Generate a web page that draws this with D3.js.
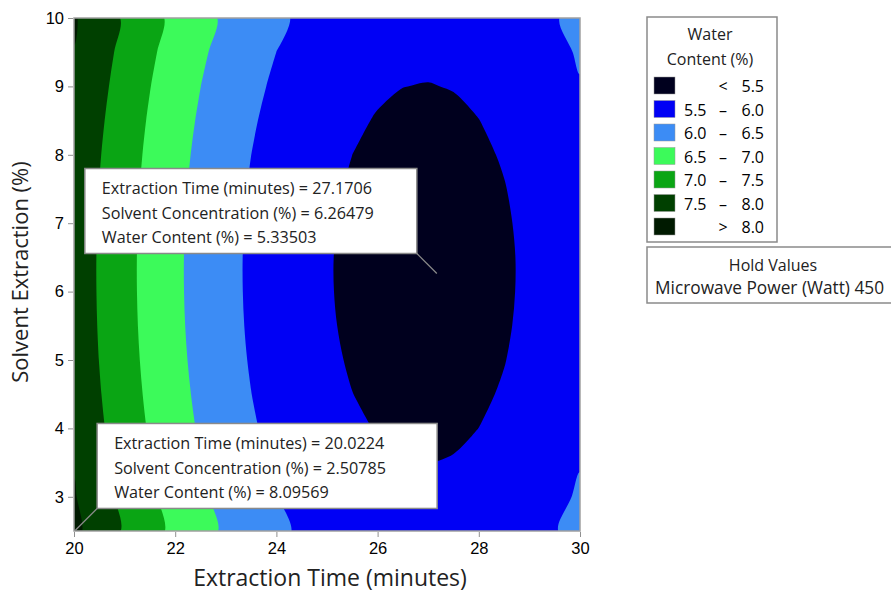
<!DOCTYPE html>
<html lang="en">
  <head>
    <meta charset="utf-8">
    <title>Contour Plot of Water Content</title>
    <style>
    body { margin: 0; background: #fff; }
    svg { display: block; font-family: "Open Sans", "Noto Sans", sans-serif; }
    .axis text { font-size: 16.5px; fill: #000; }
    .axis line { stroke: #909090; }
    .axis path { display: none; }
    </style>
    <script src="https://cdn.jsdelivr.net/npm/d3@7/dist/d3.min.js"></script>
  </head>
  <body>
    <script>

      // Grid: water content (%) at each time / solvent point
      var timeValues = [20, 20.5, 21, 21.5, 22, 22.5, 23, 23.5, 24, 24.5, 25,
                        25.5, 26, 26.5, 27, 27.5, 28, 28.5, 29, 29.5, 30];
      var solventValues = [2.5, 3, 3.5, 4, 4.5, 5, 5.5, 6, 6.5, 7, 7.5, 8, 8.5, 9, 9.5, 10];
      var waterGrid = [
        [8.113, 7.769, 7.451, 7.158, 6.892, 6.651, 6.435, 6.246, 6.082, 5.944, 5.832, 5.745, 5.685, 5.650, 5.640, 5.657, 5.699, 5.767, 5.861, 5.980, 6.125], // 2.5
        [8.036, 7.692, 7.374, 7.081, 6.815, 6.574, 6.358, 6.169, 6.005, 5.867, 5.755, 5.668, 5.608, 5.573, 5.563, 5.580, 5.622, 5.690, 5.784, 5.903, 6.048], // 3.0
        [7.970, 7.626, 7.308, 7.015, 6.749, 6.508, 6.292, 6.103, 5.939, 5.801, 5.689, 5.602, 5.542, 5.507, 5.497, 5.514, 5.556, 5.624, 5.718, 5.837, 5.982], // 3.5
        [7.915, 7.571, 7.253, 6.960, 6.694, 6.453, 6.237, 6.048, 5.884, 5.746, 5.634, 5.547, 5.487, 5.452, 5.442, 5.459, 5.501, 5.569, 5.663, 5.782, 5.927], // 4.0
        [7.871, 7.527, 7.209, 6.916, 6.650, 6.409, 6.193, 6.004, 5.840, 5.702, 5.590, 5.503, 5.443, 5.408, 5.398, 5.415, 5.457, 5.525, 5.619, 5.738, 5.883], // 4.5
        [7.838, 7.494, 7.176, 6.883, 6.617, 6.376, 6.160, 5.971, 5.807, 5.669, 5.557, 5.470, 5.410, 5.375, 5.365, 5.382, 5.424, 5.492, 5.586, 5.705, 5.850], // 5.0
        [7.816, 7.472, 7.154, 6.861, 6.595, 6.354, 6.138, 5.949, 5.785, 5.647, 5.535, 5.448, 5.388, 5.353, 5.343, 5.360, 5.402, 5.470, 5.564, 5.683, 5.828], // 5.5
        [7.805, 7.461, 7.143, 6.850, 6.584, 6.343, 6.127, 5.938, 5.774, 5.636, 5.524, 5.437, 5.377, 5.342, 5.332, 5.349, 5.391, 5.459, 5.553, 5.672, 5.817], // 6.0
        [7.804, 7.460, 7.142, 6.849, 6.583, 6.342, 6.126, 5.937, 5.773, 5.635, 5.523, 5.436, 5.376, 5.341, 5.331, 5.348, 5.390, 5.458, 5.552, 5.671, 5.816], // 6.5
        [7.815, 7.471, 7.153, 6.860, 6.594, 6.353, 6.137, 5.948, 5.784, 5.646, 5.534, 5.447, 5.387, 5.352, 5.342, 5.359, 5.401, 5.469, 5.563, 5.682, 5.827], // 7.0
        [7.836, 7.492, 7.174, 6.881, 6.615, 6.374, 6.158, 5.969, 5.805, 5.667, 5.555, 5.468, 5.408, 5.373, 5.363, 5.380, 5.422, 5.490, 5.584, 5.703, 5.848], // 7.5
        [7.868, 7.524, 7.206, 6.913, 6.647, 6.406, 6.190, 6.001, 5.837, 5.699, 5.587, 5.500, 5.440, 5.405, 5.395, 5.412, 5.454, 5.522, 5.616, 5.735, 5.880], // 8.0
        [7.911, 7.567, 7.249, 6.956, 6.690, 6.449, 6.233, 6.044, 5.880, 5.742, 5.630, 5.543, 5.483, 5.448, 5.438, 5.455, 5.497, 5.565, 5.659, 5.778, 5.923], // 8.5
        [7.965, 7.621, 7.303, 7.010, 6.744, 6.503, 6.287, 6.098, 5.934, 5.796, 5.684, 5.597, 5.537, 5.502, 5.492, 5.509, 5.551, 5.619, 5.713, 5.832, 5.977], // 9.0
        [7.990, 7.686, 7.368, 7.075, 6.809, 6.568, 6.352, 6.163, 5.999, 5.861, 5.749, 5.662, 5.602, 5.567, 5.557, 5.574, 5.616, 5.684, 5.778, 5.897, 6.042], // 9.5
        [8.040, 7.762, 7.444, 7.151, 6.885, 6.644, 6.428, 6.239, 6.075, 5.937, 5.825, 5.738, 5.678, 5.643, 5.633, 5.650, 5.692, 5.760, 5.854, 5.973, 6.118]  // 10
      ];

      var thresholds = [5.5, 6.0, 6.5, 7.0, 7.5, 8.0];
      var bandColors = ["#00001e", "#0000f5", "#3c8cf5", "#3cfa5a", "#0aa514", "#004000", "#001a00"];
      var legendLow = ["", "5.5", "6.0", "6.5", "7.0", "7.5", ""];
      var legendSign = ["<", "\u2013", "\u2013", "\u2013", "\u2013", "\u2013", ">"];
      var legendHigh = ["5.5", "6.0", "6.5", "7.0", "7.5", "8.0", "8.0"];

      var xTicks = [20, 22, 24, 26, 28, 30];
      var yTicks = [3, 4, 5, 6, 7, 8, 9, 10];

      // Flagged points (time, solvent, water)
      var flagTime = [27.1706, 20.0224];
      var flagSolvent = [6.26479, 2.50785];
      var flagWater = [5.33503, 8.09569];

      var width = 891, height = 592;
      var plot = { left: 74, top: 18, right: 580, bottom: 531 };

      var svg = d3.select("body").append("svg")
          .attr("width", width)
          .attr("height", height);

      var x = d3.scaleLinear().domain([20, 30]).range([plot.left, plot.right]);
      var y = d3.scaleLinear().domain([2.5, 10]).range([plot.bottom, plot.top]);

      // grid index (cell centre at i + 0.5) -> data value
      var gx = d3.scaleLinear().domain([0.5, timeValues.length - 0.5])
          .range([timeValues[0], timeValues[timeValues.length - 1]]);
      var gy = d3.scaleLinear().domain([0.5, solventValues.length - 0.5])
          .range([solventValues[0], solventValues[solventValues.length - 1]]);

      svg.append("clipPath").attr("id", "plot-clip")
        .append("rect")
          .attr("x", plot.left).attr("y", plot.top)
          .attr("width", plot.right - plot.left)
          .attr("height", plot.bottom - plot.top);

      var flat = [];
      waterGrid.forEach(function(row) { row.forEach(function(v) { flat.push(v); }); });

      var contours = d3.contours()
          .size([timeValues.length, solventValues.length])
          .thresholds(thresholds)(flat);

      var ringLine = d3.line()
          .x(function(p) { return x(gx(p[0])); })
          .y(function(p) { return y(gy(p[1])); })
          .curve(d3.curveCatmullRomClosed.alpha(0.5));

      function contourPath(c) {
        var d = "";
        c.coordinates.forEach(function(poly) {
          poly.forEach(function(ring) {
            d += ringLine(ring.slice(0, ring.length - 1));
          });
        });
        return d;
      }

      var g = svg.append("g").attr("clip-path", "url(#plot-clip)");

      g.append("rect")
          .attr("x", plot.left).attr("y", plot.top)
          .attr("width", plot.right - plot.left)
          .attr("height", plot.bottom - plot.top)
          .attr("fill", bandColors[0]);

      g.selectAll("path.band")
        .data(contours)
        .enter().append("path")
          .attr("class", "band")
          .attr("d", contourPath)
          .attr("fill-rule", "evenodd")
          .attr("fill", function(d, i) { return bandColors[i + 1]; });

      // frame
      svg.append("rect")
          .attr("x", plot.left).attr("y", plot.top)
          .attr("width", plot.right - plot.left)
          .attr("height", plot.bottom - plot.top)
          .attr("fill", "none")
          .attr("stroke", "#a0a0a0")
          .attr("stroke-width", 1.5);

      svg.append("g")
          .attr("class", "axis")
          .attr("transform", "translate(0," + (plot.bottom + 1) + ")")
          .call(d3.axisBottom(x).tickValues(xTicks).tickSize(5).tickPadding(5));

      svg.append("g")
          .attr("class", "axis")
          .attr("transform", "translate(" + (plot.left - 1) + ",0)")
          .call(d3.axisLeft(y).tickValues(yTicks).tickSize(5).tickPadding(4));

      svg.append("text")
          .attr("x", (plot.left + plot.right) / 2 + 3)
          .attr("y", 586)
          .attr("text-anchor", "middle")
          .attr("font-size", 23)
          .attr("fill", "#222")
          .text("Extraction Time (minutes)");

      svg.append("text")
          .attr("transform", "translate(28," + 272 + ") rotate(-90)")
          .attr("text-anchor", "middle")
          .attr("font-size", 22)
          .attr("fill", "#222")
          .text("Solvent Extraction (%)");

      // flag boxes with leader lines
      var flagBox = [
        { w: 332, h: 85, dx: -20, dy: -20, side: "left" },
        { w: 340, h: 85, dx: 22, dy: -22, side: "right" }
      ];

      flagTime.forEach(function(t, i) {
        var px = x(t), py = y(flagSolvent[i]);
        var b = flagBox[i];
        var cx = px + b.dx, cy = py + b.dy;
        var bx = b.side === "left" ? cx - b.w : cx;
        var by = cy - b.h;
        svg.append("line")
            .attr("x1", px).attr("y1", py)
            .attr("x2", cx).attr("y2", cy)
            .attr("stroke", "#8a8a8a")
            .attr("stroke-width", 1.2);
        svg.append("rect")
            .attr("x", bx).attr("y", by)
            .attr("width", b.w).attr("height", b.h)
            .attr("fill", "#fff")
            .attr("stroke", "#8a8a8a")
            .attr("stroke-width", 1.5);
        var lines = [
          "Extraction Time (minutes) = " + t,
          "Solvent Concentration (%) = " + flagSolvent[i],
          "Water Content (%) = " + flagWater[i]
        ];
        svg.append("g").selectAll("text")
          .data(lines)
          .enter().append("text")
            .attr("x", bx + 17)
            .attr("y", function(d, j) { return by + 26 + j * 24.5; })
            .attr("font-size", 16.2)
            .attr("fill", "#222")
            .text(function(d) { return d; });
      });

      // legend
      var legend = svg.append("g");
      legend.append("rect")
          .attr("x", 647).attr("y", 17)
          .attr("width", 130).attr("height", 225)
          .attr("fill", "#fff")
          .attr("stroke", "#8a8a8a")
          .attr("stroke-width", 1.5);
      legend.append("text")
          .attr("x", 710).attr("y", 40)
          .attr("text-anchor", "middle")
          .attr("font-size", 16).attr("fill", "#222")
          .text("Water");
      legend.append("text")
          .attr("x", 710).attr("y", 65)
          .attr("text-anchor", "middle")
          .attr("font-size", 16).attr("fill", "#222")
          .text("Content (%)");

      var rows = legend.selectAll("g.row")
        .data(bandColors)
        .enter().append("g")
          .attr("class", "row")
          .attr("transform", function(d, i) { return "translate(0," + (86 + i * 23.5) + ")"; });
      rows.append("rect")
          .attr("x", 654).attr("y", -9)
          .attr("width", 21).attr("height", 17)
          .attr("fill", function(d) { return d; })
          .attr("stroke", "#999")
          .attr("stroke-width", 0.5);
      rows.append("text")
          .attr("x", 684).attr("y", 6)
          .attr("font-size", 16)
          .text(function(d, i) { return legendLow[i]; });
      rows.append("text")
          .attr("x", 723).attr("y", 6)
          .attr("text-anchor", "middle")
          .attr("font-size", 16)
          .text(function(d, i) { return legendSign[i]; });
      rows.append("text")
          .attr("x", 764).attr("y", 6)
          .attr("text-anchor", "end")
          .attr("font-size", 16)
          .text(function(d, i) { return legendHigh[i]; });

      var hold = svg.append("g");
      hold.append("rect")
          .attr("x", 647).attr("y", 247)
          .attr("width", 260).attr("height", 56)
          .attr("fill", "#fff")
          .attr("stroke", "#8a8a8a")
          .attr("stroke-width", 1.5);
      hold.append("text")
          .attr("x", 773).attr("y", 271)
          .attr("text-anchor", "middle")
          .attr("font-size", 16).attr("fill", "#222")
          .text("Hold Values");
      hold.append("text")
          .attr("x", 655).attr("y", 294)
          .attr("font-size", 17.3).attr("fill", "#222")
          .text("Microwave Power (Watt) 450");

    </script>
  </body>
</html>
